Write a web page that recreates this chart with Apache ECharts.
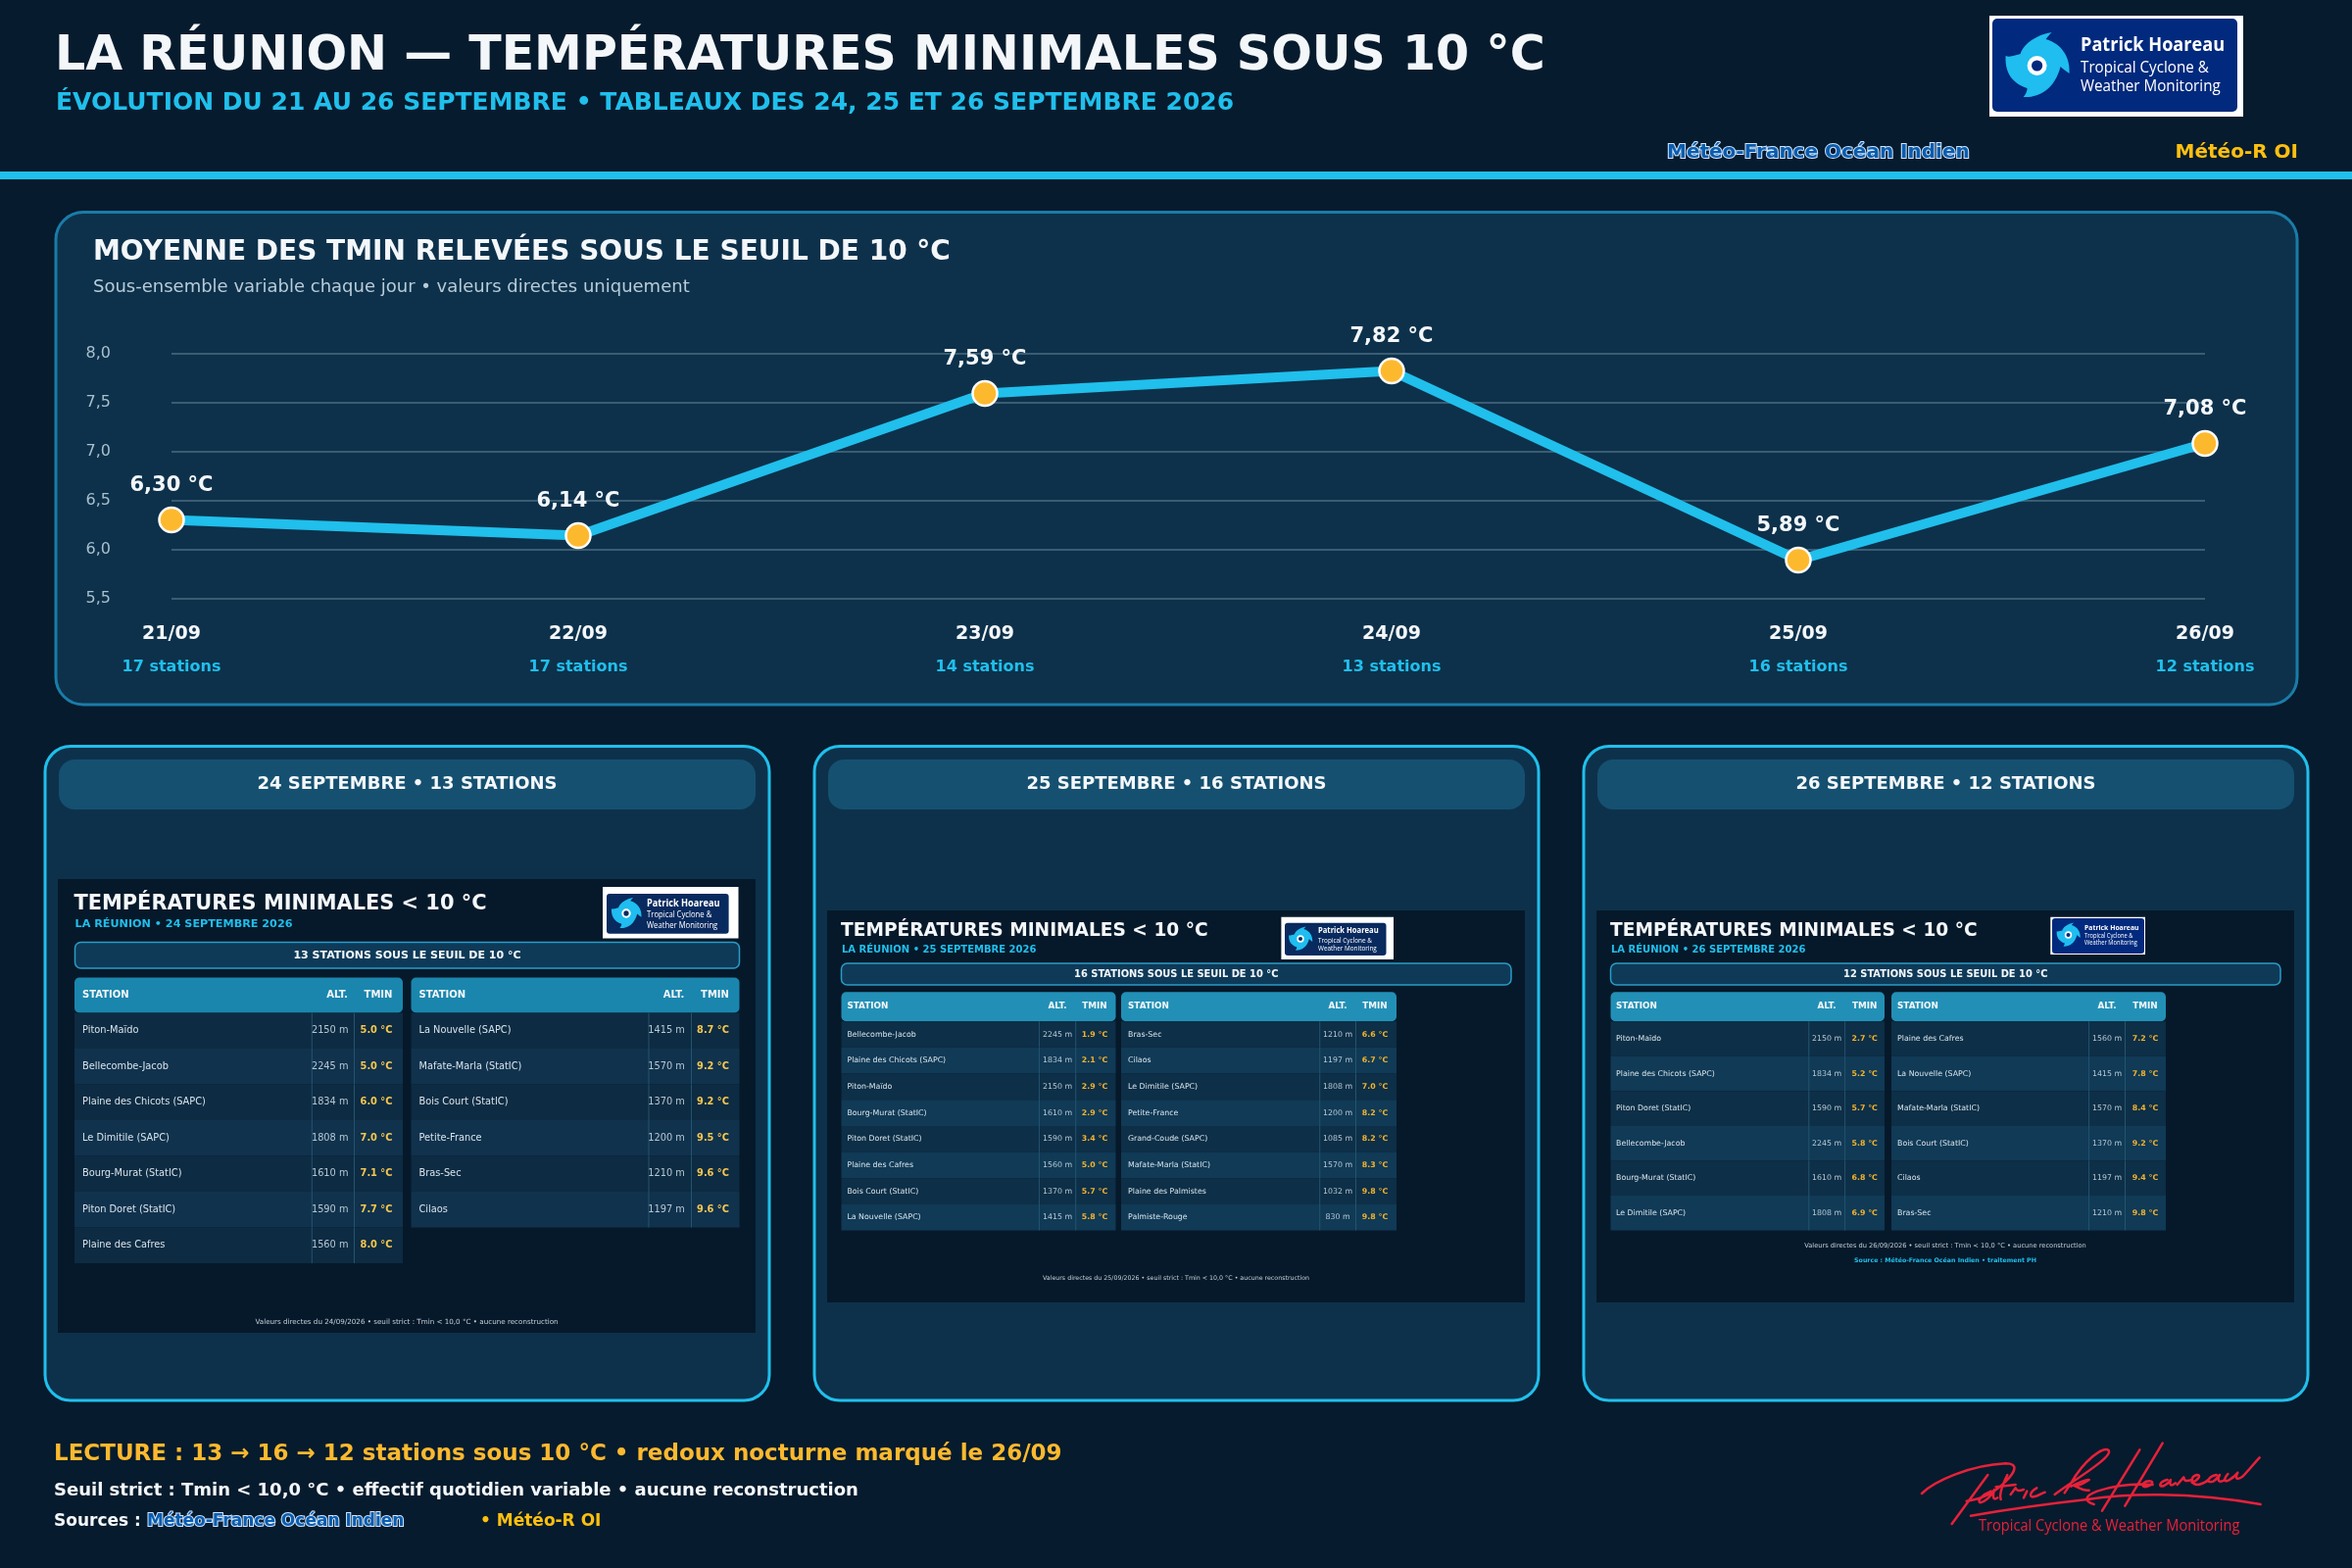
<!DOCTYPE html>
<html><head><meta charset="utf-8">
<style>html,body{margin:0;padding:0;background:#061b2d}#c{width:2400px;height:1600px}</style>
<script src="https://cdn.jsdelivr.net/npm/echarts@6/dist/echarts.min.js"></script>
</head><body><div id="c"></div>
<script>
// ---------- DATA ----------
const days = ['21/09','22/09','23/09','24/09','25/09','26/09'];
const stationCounts = [17,17,14,13,16,12];
const meanTmin = [6.30,6.14,7.59,7.82,5.89,7.08];
const yTicksMin = 5.5, yTicksMax = 8.0, yTickStep = 0.5;

const stations24 = ['Piton-Maïdo','Bellecombe-Jacob','Plaine des Chicots (SAPC)','Le Dimitile (SAPC)','Bourg-Murat (StatIC)','Piton Doret (StatIC)','Plaine des Cafres','La Nouvelle (SAPC)','Mafate-Marla (StatIC)','Bois Court (StatIC)','Petite-France','Bras-Sec','Cilaos'];
const altitudes24 = [2150,2245,1834,1808,1610,1590,1560,1415,1570,1370,1200,1210,1197];
const tmin24 = [5.0,5.0,6.0,7.0,7.1,7.7,8.0,8.7,9.2,9.2,9.5,9.6,9.6];

const stations25 = ['Bellecombe-Jacob','Plaine des Chicots (SAPC)','Piton-Maïdo','Bourg-Murat (StatIC)','Piton Doret (StatIC)','Plaine des Cafres','Bois Court (StatIC)','La Nouvelle (SAPC)','Bras-Sec','Cilaos','Le Dimitile (SAPC)','Petite-France','Grand-Coude (SAPC)','Mafate-Marla (StatIC)','Plaine des Palmistes','Palmiste-Rouge'];
const altitudes25 = [2245,1834,2150,1610,1590,1560,1370,1415,1210,1197,1808,1200,1085,1570,1032,830];
const tmin25 = [1.9,2.1,2.9,2.9,3.4,5.0,5.7,5.8,6.6,6.7,7.0,8.2,8.2,8.3,9.8,9.8];

const stations26 = ['Piton-Maïdo','Plaine des Chicots (SAPC)','Piton Doret (StatIC)','Bellecombe-Jacob','Bourg-Murat (StatIC)','Le Dimitile (SAPC)','Plaine des Cafres','La Nouvelle (SAPC)','Mafate-Marla (StatIC)','Bois Court (StatIC)','Cilaos','Bras-Sec'];
const altitudes26 = [2150,1834,1590,2245,1610,1808,1560,1415,1570,1370,1197,1210];
const tmin26 = [2.7,5.2,5.7,5.8,6.8,6.9,7.2,7.8,8.4,9.2,9.4,9.8];

const mainTitle = 'LA RÉUNION — TEMPÉRATURES MINIMALES SOUS 10 °C';
const mainSubtitle = 'ÉVOLUTION DU 21 AU 26 SEPTEMBRE • TABLEAUX DES 24, 25 ET 26 SEPTEMBRE 2026';
const chartTitle = 'MOYENNE DES TMIN RELEVÉES SOUS LE SEUIL DE 10 °C';
const chartSubtitle = 'Sous-ensemble variable chaque jour • valeurs directes uniquement';
const readingLine = 'LECTURE : 13 → 16 → 12 stations sous 10 °C • redoux nocturne marqué le 26/09';
const thresholdLine = 'Seuil strict : Tmin < 10,0 °C • effectif quotidien variable • aucune reconstruction';

// ---------- STYLE ----------
const FONT = '"DejaVu Sans"';
const C = {bg:'#061b2d',panel:'#0d314b',cyan:'#20bfec',white:'#f4f7fa',amber:'#fdb92e',gold:'#fdc010',grid:'#3a5d73',axis:'#a9bfcd',blue:'#0b5cad',blueEdge:'#cfe6ff'};

const gfx = [];
function rect(x0,y0,x1,y1,fill,o){o=o||{};gfx.push({type:'rect',shape:{x:x0,y:y0,width:x1-x0,height:y1-y0,r:o.r||0},style:{fill:fill,stroke:o.stroke||null,lineWidth:o.lw||0},silent:true});}
function txt(t,x,y,size,weight,color,align,extra){gfx.push({type:'text',x:x,y:y,silent:true,style:Object.assign({text:t,x:0,y:0,fill:color,font:`${weight} ${size}px ${FONT}`,textAlign:align||'left',textVerticalAlign:'middle'},extra||{})});}
const outlined = {stroke:C.blueEdge,lineWidth:2};

// header
txt(mainTitle,56,58.5,49,'bold',C.white);
txt(mainSubtitle,57,105,25,'bold',C.cyan);
txt('Météo-France Océan Indien',1701,155.5,20,'bold',C.blue,'left',outlined);
txt('Météo-R OI',2345,155.5,20,'bold',C.gold,'right');
rect(0,175,2400,183,C.cyan);
// chart panel
rect(57,216.5,2344,719,C.panel,{r:28,stroke:'#1a7ca8',lw:3});
txt(chartTitle,95,258,28,'bold',C.white);
txt(chartSubtitle,95,293,18,'normal','#b8cbd8');

// table panels
const panels = [
 {x0:46,x1:785,label:'24 SEPTEMBRE • 13 STATIONS'},
 {x0:831,x1:1570,label:'25 SEPTEMBRE • 16 STATIONS'},
 {x0:1616,x1:2355,label:'26 SEPTEMBRE • 12 STATIONS'}];
panels.forEach(p=>{
  rect(p.x0,761.5,p.x1,1429,C.panel,{r:26,stroke:C.cyan,lw:3});
  rect(p.x0+14,775,p.x1-14,826,'#155070',{r:16});
  txt(p.label,(p.x0+p.x1)/2,800,18,'bold',C.white,'center');
});

function tableBlock(cfg,names,alts,temps){
  rect(cfg.img[0],cfg.img[1],cfg.img[2],cfg.img[3],'#06192a');
  txt('TEMPÉRATURES MINIMALES < 10 °C',cfg.titleX,cfg.titleY,cfg.titleSize,'bold',C.white);
  txt(`LA RÉUNION • ${cfg.dayLabel} SEPTEMBRE 2026`,cfg.titleX+1,cfg.subY,cfg.subSize,'bold',C.cyan);
  rect(cfg.banner[0],cfg.banner[1],cfg.banner[2],cfg.banner[3],'#0e3a58',{r:6,stroke:'#2a9cc6',lw:1.5});
  txt(`${names.length} STATIONS SOUS LE SEUIL DE 10 °C`,(cfg.banner[0]+cfg.banner[2])/2,(cfg.banner[1]+cfg.banner[3])/2,cfg.bannerSize,'bold',C.white,'center');
  let idx=0;
  cfg.cols.forEach(col=>{
    rect(col.x0,cfg.headY[0],col.x1,cfg.headY[1],cfg.headFill,{r:5});
    const hy=(cfg.headY[0]+cfg.headY[1])/2;
    txt('STATION',col.nameX,hy,cfg.headSize,'bold',C.white);
    txt('ALT.',col.altHead,hy,cfg.headSize,'bold',C.white,'center');
    txt('TMIN',col.tminHead,hy,cfg.headSize,'bold',C.white,'center');
    for(let r=0;r<col.rows;r++,idx++){
      const y0=cfg.headY[1]+r*cfg.rowH, y1=y0+cfg.rowH, ym=(y0+y1)/2;
      rect(col.x0,y0,col.x1,y1,r%2?cfg.rowB:cfg.rowA);
      rect(col.sep1-.5,y0,col.sep1+.5,y1,'#24546f');
      rect(col.sep2-.5,y0,col.sep2+.5,y1,'#24546f');
      txt(names[idx],col.nameX,ym,cfg.rowSize,'normal','#d6e2ea');
      txt(alts[idx]+' m',col.altC,ym,cfg.rowSize,'normal','#b5c7d3','center');
      txt(temps[idx].toFixed(1)+' °C',col.tminC,ym,cfg.rowSize,'bold',cfg.tminColor,'center');
    }
  });
  txt(`Valeurs directes du ${cfg.dayLabel}/09/2026 • seuil strict : Tmin < 10,0 °C • aucune reconstruction`,cfg.footX,cfg.footY,cfg.footSize,'normal','#c2ced7','center');
  if(cfg.source) txt('Source : Météo-France Océan Indien • traitement PH',cfg.footX,cfg.source,cfg.footSize-.4,'bold',C.cyan,'center');
}
tableBlock({dayLabel:'24',img:[59,897,771,1360],titleX:75.5,titleY:922.5,titleSize:20.9,subY:943,subSize:11.2,banner:[76.5,961.5,754.5,988],bannerSize:11,
  headY:[997.5,1033.5],headFill:'#1a86ae',rowH:36.5,rowA:'#0d2b42',rowB:'#10324d',rowSize:9.8,headSize:10,tminColor:'#f4c64e',footX:415,footY:1349,footSize:7.17,
  cols:[{rows:7,x0:76,x1:411,sep1:318.3,sep2:361.5,nameX:84,altC:336.7,tminC:384,altHead:344,tminHead:386},
        {rows:6,x0:419.5,x1:754.5,sep1:662,sep2:705.5,nameX:427.5,altC:680,tminC:727.5,altHead:687.5,tminHead:729.5}]},stations24,altitudes24,tmin24);
tableBlock({dayLabel:'25',img:[844,929,1556,1329],titleX:858,titleY:950,titleSize:18.6,subY:969,subSize:10,banner:[858.5,983,1542,1005],bannerSize:9.9,
  headY:[1012.2,1042.2],headFill:'#2290b6',rowH:26.67,rowA:'#0d2f47',rowB:'#103a56',rowSize:7.85,headSize:8.8,tminColor:'#f3b32e',footX:1200,footY:1304,footSize:6.3,
  cols:[{rows:8,x0:858.5,x1:1138.5,sep1:1060.4,sep2:1097.7,nameX:864.4,altC:1079,tminC:1117,altHead:1079,tminHead:1117},
        {rows:8,x0:1144,x1:1425,sep1:1346.7,sep2:1383.5,nameX:1151,altC:1365,tminC:1403,altHead:1365,tminHead:1403}]},stations25,altitudes25,tmin25);
tableBlock({dayLabel:'26',img:[1629,929,2341,1329],titleX:1643,titleY:950,titleSize:18.6,subY:969,subSize:10,banner:[1643.5,983,2327,1005],bannerSize:9.9,
  headY:[1012.2,1042.2],headFill:'#2290b6',rowH:35.56,rowA:'#0d2f47',rowB:'#103a56',rowSize:7.85,headSize:8.8,tminColor:'#f3b32e',footX:1985,footY:1271,footSize:6.66,source:1286,
  cols:[{rows:6,x0:1643.5,x1:1923,sep1:1845.8,sep2:1882.6,nameX:1649,altC:1864,tminC:1902.7,altHead:1864,tminHead:1902.7},
        {rows:6,x0:1930,x1:2210,sep1:2131.6,sep2:2168.5,nameX:1936,altC:2150,tminC:2189,altHead:2150,tminHead:2189}]},stations26,altitudes26,tmin26);

// footer
txt(readingLine,55,1484,23,'bold',C.amber);
txt(thresholdLine,55,1521,18,'bold',C.white);
txt('Sources :',55,1552.5,17,'bold',C.white);
txt('Météo-France Océan Indien',150,1552.5,17,'bold',C.blue,'left',outlined);
txt('• Météo-R OI',490,1552.5,17,'bold',C.gold);

// ---------- LOGOS + SIGNATURE (custom series, path shapes) ----------
const swirl='M15,-34 C2,-32 -13,-24 -17,-12 C-21,-11 -28,-8 -32,-10 C-33,6 -26,18 -10,23 C-10,26 -12,30 -14,32 C2,33 18,24 24,1 C26,3 30,6 33,8 C34,-8 26,-22 9,-27 C11,-30 13,-32 15,-34 Z';
function logoEls(o){
  const els=[];
  els.push({type:'rect',shape:{x:o.box[0],y:o.box[1],width:o.box[2]-o.box[0],height:o.box[3]-o.box[1]},style:{fill:'#ffffff'}});
  els.push({type:'rect',shape:{x:o.inner[0],y:o.inner[1],width:o.inner[2]-o.inner[0],height:o.inner[3]-o.inner[1],r:o.r||3},style:{fill:o.navy}});
  els.push({type:'path',x:o.c[0],y:o.c[1],scaleX:o.s,scaleY:o.s,shape:{pathData:swirl},style:{fill:'#1fbdf0'}});
  els.push({type:'circle',shape:{cx:o.c[0],cy:o.c[1],r:10*o.s},style:{fill:'#ffffff'}});
  els.push({type:'circle',shape:{cx:o.c[0],cy:o.c[1],r:5.6*o.s},style:{fill:o.navy}});
  const t=(s,y,w,sz,sx)=>els.push({type:'text',x:o.tx,y:y,scaleX:sx,style:{text:s,x:0,y:0,fill:'#ffffff',font:`${w} ${sz*o.k}px "Open Sans"`,textVerticalAlign:'middle'}});
  t('Patrick Hoareau',o.ty[0],'bold',19.5,.93);
  t('Tropical Cyclone &',o.ty[1],'normal',17,.895);
  t('Weather Monitoring',o.ty[2],'normal',17,.895);
  return els;
}
const sigStrokes=[
 'M183 282 C220 245 330 195 440 190 C480 190 470 215 440 245 C410 275 370 300 320 305',
 'M385 225 L275 375',
 'M395 275 C370 285 350 305 362 310 C380 305 395 290 405 270 C400 290 400 305 415 295',
 'M445 225 C430 255 420 285 425 300 M410 262 L470 255',
 'M455 285 L470 265 C475 275 480 275 495 270 M505 275 L495 295',
 'M535 265 C515 275 510 295 525 292 C540 290 550 280 560 278',
 'M590 285 C650 240 770 170 755 150 C740 135 680 180 640 250 L620 280',
 'M640 260 C660 250 690 235 695 240 C680 250 660 260 650 258 C665 265 680 275 695 272',
 'M850 148 L735 335 M920 128 L805 320',
 'M710 315 C680 305 680 290 720 275 C760 262 820 250 890 255',
 'M333 350 C450 330 600 310 690 300 C800 282 1000 275 1220 315',
 'M870 245 C850 255 860 268 880 258 C895 250 890 240 870 245',
 'M935 240 C910 245 905 265 925 258 C940 250 945 240 945 240 C940 255 945 262 960 250',
 'M965 255 L985 232 C985 245 995 245 1010 240',
 'M1010 248 C1030 240 1040 225 1025 225 C1005 230 1005 255 1030 255 C1050 250 1060 240 1060 240',
 'M1085 225 C1060 230 1050 252 1075 245 C1085 240 1090 230 1095 225 C1085 245 1095 250 1110 240',
 'M1120 222 C1105 240 1110 250 1125 240 C1140 230 1145 225 1150 218 C1140 240 1150 240 1165 230 C1180 215 1200 190 1217 172'
].join(' ');
function decorItem(){
  const children=[].concat(
    logoEls({box:[2030,16,2289,119],inner:[2033,19,2283,114],r:5,navy:'#01297d',c:[2078.6,67],s:1,tx:2123,ty:[46.5,69,88],k:1}),
    logoEls({box:[615,905,753.5,957.5],inner:[619,912,743.6,952.7],navy:'#082a5e',c:[639,932],s:.47,tx:660,ty:[922,934,945],k:.507}),
    logoEls({box:[1307.4,935.7,1422,979],inner:[1311,941.7,1414.5,975],navy:'#082a5e',c:[1327,958],s:.37,tx:1345,ty:[950,960,968],k:.42}),
    logoEls({box:[2092.3,935.7,2189,974],inner:[2094,937,2188,973],navy:'#01297d',c:[2110.5,954],s:.37,tx:2127,ty:[947,955,962],k:.378}),
    [{type:'path',x:1900,y:1430,scaleX:1/3,scaleY:1/3,shape:{pathData:sigStrokes},style:{fill:'none',stroke:'#e8213a',lineWidth:7.5,lineCap:'round',lineJoin:'round'}},
     {type:'text',x:2019,y:1557,scaleX:.885,style:{text:'Tropical Cyclone & Weather Monitoring',x:0,y:0,fill:'#e8213a',font:'normal 16.5px "Open Sans"',textVerticalAlign:'middle'}}]
  );
  return {type:'group',children:children};
}

// ---------- CHART ----------
const chart=echarts.init(document.getElementById('c'),null,{renderer:'canvas',width:2400,height:1600,devicePixelRatio:1});
chart.setOption({
  animation:false,
  backgroundColor:C.bg,
  textStyle:{fontFamily:FONT},
  grid:{left:175,right:150,top:360.5,bottom:989.5,containLabel:false},
  xAxis:{type:'category',data:days,boundaryGap:false,
    axisLine:{show:false},axisTick:{show:false},splitLine:{show:false},
    axisLabel:{show:true,interval:0,margin:19.5,fontFamily:FONT,
      formatter:(v,i)=>`{d|${v}}\n{s|${stationCounts[i]} stations}`,
      rich:{d:{fontFamily:FONT,fontSize:19,fontWeight:'bold',color:C.white,lineHeight:35},
            s:{fontFamily:FONT,fontSize:16,fontWeight:'bold',color:C.cyan,lineHeight:32}}}},
  yAxis:{type:'value',min:yTicksMin,max:yTicksMax,interval:yTickStep,
    axisLine:{show:false},axisTick:{show:false},
    splitLine:{show:true,lineStyle:{color:C.grid,width:2}},
    axisLabel:{color:C.axis,fontSize:16,fontFamily:FONT,margin:62,formatter:v=>v.toFixed(1).replace('.',',')}},
  graphic:{z:-10,elements:gfx},
  series:[
    {type:'line',data:meanTmin,z:3,silent:true,symbol:'circle',symbolSize:25,showAllSymbol:true,
     lineStyle:{color:C.cyan,width:10,cap:'round'},itemStyle:{color:C.amber,borderColor:'#ffffff',borderWidth:2.5},
     label:{show:true,position:'top',distance:10.5,color:C.white,fontFamily:FONT,fontSize:21,fontWeight:'bold',
       formatter:p=>p.value.toFixed(2).replace('.',',')+' °C'}},
    {type:'custom',coordinateSystem:'none',data:[[0]],z:4,silent:true,renderItem:decorItem}
  ]
});
</script></body></html>
